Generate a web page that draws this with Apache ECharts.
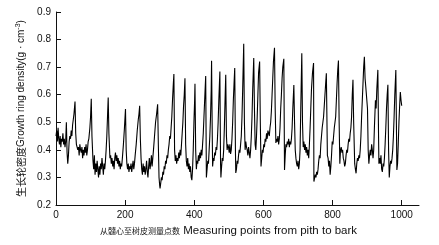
<!DOCTYPE html>
<html>
<head>
<meta charset="utf-8">
<script src="https://cdn.jsdelivr.net/npm/echarts@6/dist/echarts.min.js"></script>
<style>
  html, body { margin: 0; padding: 0; background: #fff; }
  #main { width: 439px; height: 245px; }
</style>
</head>
<body>
<div id="main"></div>
<script>
// x tick labels and y range
const xTicks = [0, 200, 400, 600, 800, 1000];
const yMin = 0.2, yMax = 0.9, yStep = 0.1;

// [measuring point, density]
const densityTrace = [
  [0,0.45],[2,0.47],[4,0.43],[6,0.48],[8,0.44],[10,0.42],[12,0.45],[14,0.41],[16,0.44],[18,0.43],
  [20,0.46],[22,0.42],[24,0.44],[26,0.41],[28,0.43],[30,0.50],[32,0.39],[34,0.35],[36,0.38],[38,0.43],
  [40,0.45],[42,0.44],[44,0.47],[46,0.45],[48,0.49],[50,0.51],[52,0.53],[55,0.575],[57,0.46],[59,0.42],
  [61,0.42],[63,0.40],[65,0.41],[67,0.38],[69,0.42],[71,0.40],[73,0.39],[75,0.41],[77,0.37],[79,0.40],
  [81,0.38],[83,0.41],[85,0.39],[87,0.42],[89,0.38],[91,0.40],[93,0.43],[95,0.44],[98,0.48],[100,0.52],
  [102,0.585],[104,0.45],[107,0.36],[109,0.33],[111,0.38],[113,0.31],[115,0.35],[117,0.32],[119,0.36],[121,0.33],
  [123,0.30],[125,0.34],[127,0.31],[129,0.35],[131,0.33],[133,0.37],[135,0.34],[137,0.31],[139,0.35],[141,0.33],
  [143,0.36],[145,0.40],[147,0.45],[149,0.52],[151,0.59],[153,0.46],[156,0.37],[158,0.38],[160,0.35],[162,0.37],
  [164,0.34],[166,0.36],[168,0.33],[170,0.37],[172,0.39],[174,0.36],[176,0.38],[178,0.35],[180,0.37],[182,0.34],
  [184,0.36],[186,0.33],[188,0.35],[190,0.34],[192,0.37],[195,0.42],[198,0.48],[201,0.548],[203,0.40],[205,0.35],
  [207,0.33],[209,0.35],[211,0.32],[213,0.34],[215,0.33],[217,0.35],[219,0.32],[221,0.34],[223,0.36],[225,0.33],
  [227,0.35],[229,0.38],[232,0.42],[235,0.47],[238,0.51],[240,0.53],[242,0.56],[244,0.44],[246,0.37],[248,0.33],
  [250,0.31],[252,0.35],[254,0.32],[256,0.34],[258,0.31],[260,0.33],[262,0.36],[264,0.32],[266,0.30],[268,0.34],
  [270,0.37],[272,0.33],[274,0.35],[276,0.38],[278,0.34],[280,0.37],[282,0.40],[285,0.45],[288,0.50],[291,0.53],
  [294,0.565],[296,0.42],[298,0.30],[300,0.27],[301,0.26],[303,0.28],[305,0.30],[307,0.29],[309,0.32],[311,0.31],
  [313,0.34],[315,0.33],[317,0.36],[319,0.35],[321,0.38],[323,0.37],[325,0.40],[327,0.42],[329,0.45],[331,0.44],
  [333,0.48],[335,0.52],[337,0.58],[339,0.63],[341,0.675],[343,0.40],[345,0.36],[347,0.38],[349,0.35],[351,0.37],
  [353,0.36],[355,0.39],[357,0.37],[359,0.40],[361,0.38],[363,0.42],[365,0.46],[367,0.50],[369,0.56],[371,0.60],
  [373,0.66],[375,0.42],[377,0.36],[379,0.34],[381,0.37],[383,0.33],[385,0.35],[387,0.32],[389,0.34],[391,0.30],
  [393,0.29],[395,0.33],[397,0.40],[399,0.50],[401,0.58],[402,0.64],[404,0.40],[406,0.33],[408,0.36],[410,0.35],
  [412,0.38],[414,0.36],[416,0.39],[418,0.37],[420,0.40],[422,0.38],[424,0.42],[426,0.46],[428,0.52],[430,0.58],
  [433,0.668],[435,0.30],[437,0.33],[439,0.36],[441,0.35],[443,0.40],[445,0.45],[447,0.52],[449,0.62],[450,0.723],
  [452,0.45],[453,0.34],[455,0.37],[457,0.36],[459,0.39],[461,0.38],[463,0.41],[465,0.40],[467,0.44],[469,0.50],
  [471,0.58],[474,0.684],[476,0.35],[477,0.30],[479,0.34],[481,0.37],[483,0.36],[485,0.40],[487,0.48],[489,0.58],
  [491,0.672],[493,0.45],[495,0.40],[497,0.42],[499,0.41],[501,0.39],[503,0.42],[505,0.385],[507,0.40],[509,0.44],
  [511,0.50],[513,0.58],[515,0.64],[517,0.697],[519,0.40],[520,0.316],[522,0.33],[524,0.36],[526,0.35],[528,0.38],
  [530,0.40],[532,0.39],[534,0.42],[536,0.45],[538,0.52],[540,0.62],[543,0.785],[545,0.50],[547,0.40],[549,0.43],
  [551,0.41],[553,0.40],[555,0.38],[557,0.41],[559,0.39],[561,0.37],[563,0.40],[565,0.45],[567,0.52],[569,0.62],
  [572,0.733],[574,0.55],[576,0.42],[578,0.40],[580,0.45],[582,0.52],[584,0.60],[586,0.68],[589,0.72],[591,0.50],
  [593,0.34],[595,0.37],[597,0.40],[599,0.39],[601,0.42],[603,0.41],[605,0.44],[607,0.43],[609,0.46],[611,0.44],
  [613,0.47],[615,0.46],[617,0.45],[619,0.48],[621,0.50],[623,0.54],[625,0.60],[627,0.66],[629,0.72],[632,0.77],
  [634,0.55],[636,0.425],[638,0.44],[640,0.43],[642,0.45],[644,0.42],[646,0.44],[648,0.48],[650,0.55],[652,0.60],
  [654,0.66],[656,0.70],[659,0.73],[661,0.327],[663,0.38],[665,0.42],[667,0.41],[669,0.43],[671,0.42],[673,0.44],
  [675,0.41],[677,0.43],[679,0.42],[681,0.44],[683,0.48],[685,0.55],[688,0.635],[690,0.50],[692,0.40],[694,0.37],
  [696,0.35],[698,0.34],[700,0.36],[702,0.33],[704,0.35],[706,0.40],[708,0.55],[711,0.75],[713,0.50],[715,0.41],
  [717,0.43],[719,0.40],[721,0.42],[723,0.39],[725,0.41],[727,0.38],[729,0.40],[731,0.37],[733,0.42],[735,0.48],
  [737,0.55],[739,0.62],[742,0.68],[745,0.715],[746,0.285],[748,0.29],[750,0.31],[752,0.30],[754,0.32],[756,0.31],
  [758,0.33],[760,0.36],[762,0.38],[764,0.37],[766,0.42],[768,0.45],[770,0.48],[772,0.50],[774,0.52],[776,0.56],
  [778,0.60],[780,0.64],[782,0.678],[785,0.38],[787,0.37],[789,0.34],[791,0.36],[793,0.31],[795,0.34],[797,0.38],
  [799,0.43],[801,0.42],[803,0.45],[805,0.48],[807,0.50],[809,0.52],[811,0.58],[813,0.64],[815,0.69],[817,0.724],
  [819,0.50],[821,0.35],[823,0.40],[825,0.41],[827,0.39],[829,0.40],[831,0.37],[833,0.36],[835,0.34],[837,0.35],
  [839,0.38],[841,0.40],[843,0.39],[845,0.42],[847,0.44],[849,0.43],[851,0.46],[853,0.48],[855,0.52],[857,0.60],
  [859,0.654],[861,0.50],[864,0.35],[866,0.33],[868,0.315],[870,0.35],[872,0.37],[874,0.36],[876,0.38],[878,0.37],
  [880,0.40],[882,0.45],[884,0.52],[886,0.58],[888,0.64],[890,0.70],[892,0.738],[894,0.66],[896,0.63],[899,0.625],
  [901,0.55],[903,0.40],[905,0.35],[907,0.38],[909,0.40],[911,0.38],[913,0.42],[915,0.40],[917,0.37],[919,0.40],
  [921,0.48],[924,0.58],[926,0.55],[928,0.62],[931,0.69],[933,0.45],[934,0.35],[936,0.37],[938,0.35],[940,0.38],
  [942,0.33],[944,0.32],[946,0.35],[948,0.34],[950,0.37],[952,0.42],[954,0.48],[956,0.55],[958,0.60],[960,0.636],
  [962,0.40],[964,0.30],[966,0.34],[968,0.36],[970,0.35],[972,0.37],[974,0.40],[976,0.45],[978,0.52],[980,0.60],
  [983,0.69],[985,0.45],[986,0.327],[988,0.35],[990,0.42],[992,0.50],[994,0.56],[996,0.61],[998,0.58],[1000,0.56]
];

let chart = echarts.init(document.getElementById('main'), null, { renderer: 'canvas' });

let option = {
  animation: false,
  backgroundColor: '#fff',
  grid: { left: 56, right: 20, top: 12, bottom: 40 },
  xAxis: {
    type: 'value',
    min: 0,
    max: 1050,
    name: '{cn|从髓心至树皮测量点数} {en|Measuring points from pith to bark}',
    nameLocation: 'middle',
    nameGap: 15,
    nameTextStyle: {
      padding: [0, 18, 0, 0],
      rich: {
        cn: { fontFamily: 'Noto Sans CJK SC', fontSize: 8, color: '#111' },
        en: { fontFamily: 'Liberation Sans', fontSize: 11.5, color: '#111' }
      }
    },
    splitLine: { show: false },
    axisLine: { lineStyle: { color: '#111', width: 1 } },
    axisTick: { inside: true, length: 5, customValues: xTicks, lineStyle: { color: '#111' } },
    axisLabel: {
      customValues: xTicks, color: '#111', fontSize: 10, fontFamily: 'Liberation Sans', margin: 5,
      formatter: v => String(v)
    }
  },
  yAxis: {
    type: 'value',
    min: yMin,
    max: yMax,
    interval: yStep,
    name: '{cn|生长轮密度}{en|Growth ring density(g · cm}{sup|-3}{en|)}',
    nameLocation: 'middle',
    nameRotate: 90,
    nameGap: 27,
    nameTextStyle: {
      rich: {
        cn: { fontFamily: 'Noto Sans CJK SC', fontSize: 10, color: '#111' },
        en: { fontFamily: 'Liberation Sans', fontSize: 10, color: '#111' },
        sup: { fontFamily: 'Liberation Sans', fontSize: 7, color: '#111', padding: [0, 0, 7, 0] }
      }
    },
    splitLine: { show: false },
    axisLine: { show: true, lineStyle: { color: '#111', width: 1 } },
    axisTick: { show: true, inside: true, length: 5, lineStyle: { color: '#111' } },
    axisLabel: {
      color: '#111', fontSize: 10, fontFamily: 'Liberation Sans', margin: 5,
      formatter: v => v.toFixed(1)
    }
  },
  series: [{
    type: 'line',
    data: densityTrace,
    showSymbol: false,
    symbol: 'none',
    lineStyle: { color: '#000', width: 1.1 }
  }]
};

chart.setOption(option);
</script>
</body>
</html>
